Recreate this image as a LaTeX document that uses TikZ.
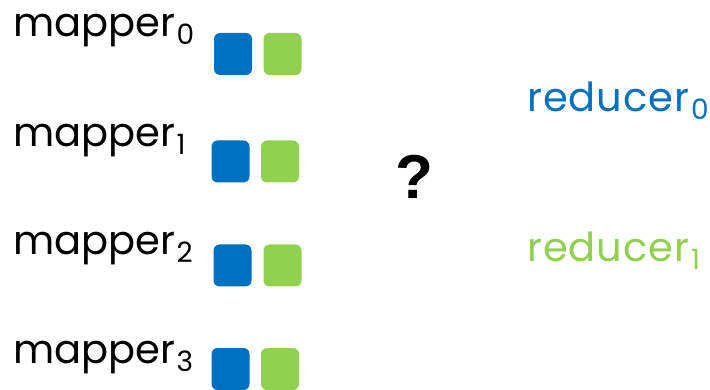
\documentclass[tikz,border=0pt]{standalone}
\usepackage{fontspec}
\setmainfont{Poppins}
\newfontfamily\qfont{Liberation Sans}
\newfontfamily\widefont[LetterSpace=2.5]{Poppins}
\definecolor{mblue}{HTML}{0070C0}
\definecolor{mgreen}{HTML}{92D050}
\newcommand{\mysub}[1]{\hspace{1.5pt}\raisebox{-8pt}{\fontsize{28}{28}\selectfont #1}}
\tikzset{
  lbl/.style={anchor=base west, inner sep=0pt, font=\fontsize{40}{40}\selectfont},
  rlbl/.style={anchor=base west, inner sep=0pt, font=\widefont\fontsize{40}{40}\selectfont},
  sq/.style={rounded corners=6pt, minimum width=38pt, minimum height=42pt, inner sep=0pt, draw=none},
  bsq/.style={sq, fill=mblue},
  gsq/.style={sq, fill=mgreen}
}
\begin{document}
\begin{tikzpicture}[x=1pt,y=-1pt]
\useasboundingbox (0,0) rectangle (710,390);
\node[lbl] (m0) at (13,37) {mapper\mysub{0}};
\node[lbl] (m1) at (13,147) {mapper\mysub{1}};
\node[lbl] (m2) at (13,255) {mapper\mysub{2}};
\node[lbl] (m3) at (13,363) {mapper\mysub{3}};
\node[bsq] (b0) at (233,54) {};
\node[gsq] (g0) at (282.5,54) {};
\node[bsq] (b1) at (230.5,161.5) {};
\node[gsq] (g1) at (280,161.5) {};
\node[bsq] (b2) at (232.5,265.5) {};
\node[gsq] (g2) at (282.5,265.5) {};
\node[bsq] (b3) at (230.5,369) {};
\node[gsq] (g3) at (280,369) {};
\node[inner sep=0pt, font=\qfont\bfseries\fontsize{62}{62}\selectfont] (q) at (414,177) {?};
\node[rlbl, text=mblue] (r0) at (527,112) {reducer\mysub{0}};
\node[rlbl, text=mgreen] (r1) at (527,262) {reducer\mysub{1}};
\end{tikzpicture}
\end{document}
